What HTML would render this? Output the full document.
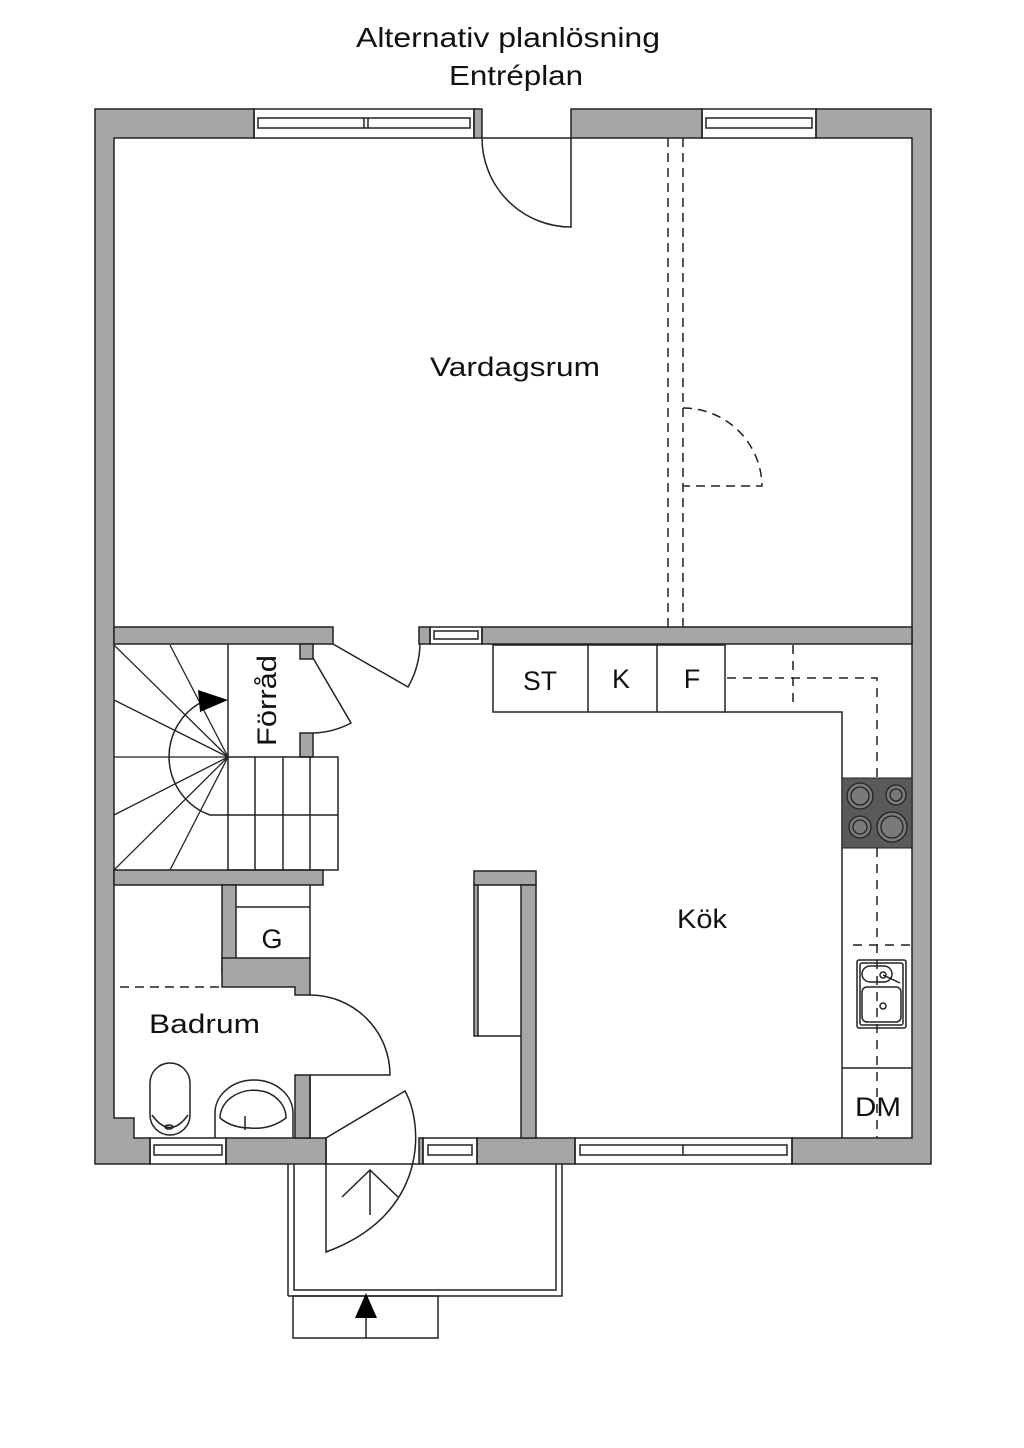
<!DOCTYPE html>
<html><head><meta charset="utf-8"><style>body{margin:0;background:#fff}svg{display:block}text{font-family:"Liberation Sans",sans-serif;fill:#111}</style></head><body>
<svg width="1024" height="1448" viewBox="0 0 1024 1448" xmlns="http://www.w3.org/2000/svg">
<text x="356" y="47" font-size="28" textLength="304" lengthAdjust="spacingAndGlyphs">Alternativ planlösning</text>
<text x="449" y="85" font-size="28" textLength="134" lengthAdjust="spacingAndGlyphs">Entréplan</text>
<g fill="#a6a6a6" stroke="#222" stroke-width="1.5">
<path d="M95,109 H254 V138 H114 V1118 H134 V1138 H150 V1164 H95 Z"/>
<rect x="474" y="109" width="8" height="29"/>
<path d="M571,109 H702 V138 H571 Z"/>
<path d="M816,109 H931 V1164 H792 V1138 H912 V138 H816 Z"/>
<rect x="226" y="1138" width="100" height="26"/>
<rect x="419" y="1138" width="4" height="26"/>
<rect x="477" y="1138" width="98" height="26"/>
<rect x="114" y="627" width="219" height="17"/>
<rect x="419" y="627" width="11" height="17"/>
<rect x="482" y="627" width="430" height="17"/>
<rect x="300" y="644" width="13" height="15"/>
<rect x="300" y="733" width="13" height="24"/>
<rect x="114" y="870" width="209" height="15"/>
<rect x="222" y="885" width="14" height="87"/>
<path d="M222,958 H310 V995 H295 V987 H222 Z"/>
<rect x="295" y="1075" width="15" height="63"/>
<rect x="474" y="871" width="62" height="14"/>
<rect x="521" y="885" width="15" height="253"/>
<rect x="474" y="885" width="4" height="151"/>
</g>
<g fill="none" stroke="#222" stroke-width="1.5">
<rect x="254" y="109" width="220" height="29"/><rect x="258" y="118" width="212" height="10"/><line x1="364" y1="118" x2="364" y2="128"/><line x1="368" y1="118" x2="368" y2="128"/>
<rect x="702" y="109" width="114" height="29"/><rect x="706" y="118" width="106" height="10"/>
<rect x="430" y="627" width="52" height="17"/><rect x="434" y="631" width="44" height="8"/>
<rect x="150" y="1138" width="76" height="26"/><rect x="154" y="1145" width="68" height="10"/>
<rect x="423" y="1138" width="54" height="26"/><rect x="428" y="1145" width="44" height="10"/>
<rect x="575" y="1138" width="217" height="26"/><rect x="580" y="1145" width="207" height="10"/><line x1="683" y1="1145" x2="683" y2="1155"/>
<path d="M571,138 V227 A89,89 0 0 1 482,138"/>
<line x1="482" y1="138" x2="571" y2="138"/>
<line x1="668" y1="138" x2="668" y2="627" stroke-dasharray="9,6"/>
<line x1="683" y1="138" x2="683" y2="627" stroke-dasharray="9,6"/>
<path d="M683,408 A79,79 0 0 1 762,486 H683" stroke-dasharray="9,6"/>
<path d="M333,644 L408,687 A90,90 0 0 0 420,644"/>
<path d="M313,658 L351,723 A85,85 0 0 1 313,733"/>
<line x1="228" y1="644" x2="228" y2="757"/>
<rect x="228" y="757" width="110" height="113"/>
<line x1="228" y1="815" x2="338" y2="815"/>
<line x1="255" y1="757" x2="255" y2="870"/><line x1="283" y1="757" x2="283" y2="870"/><line x1="310" y1="757" x2="310" y2="870"/>
<g stroke-width="1.3">
<line x1="228" y1="757" x2="114" y2="645"/><line x1="228" y1="757" x2="170" y2="645"/><line x1="228" y1="757" x2="114" y2="700"/><line x1="228" y1="757" x2="114" y2="757"/><line x1="228" y1="757" x2="114" y2="815"/><line x1="228" y1="757" x2="114" y2="870"/><line x1="228" y1="757" x2="170" y2="870"/>
</g>
<path d="M200,703 A62,62 0 0 0 210,815 H228"/>
<line x1="236" y1="907" x2="310" y2="907"/><line x1="310" y1="885" x2="310" y2="958"/>
<line x1="120" y1="987" x2="222" y2="987" stroke-dasharray="9,6"/>
<path d="M310,995 A80,80 0 0 1 390,1075 H310"/>
<rect x="150" y="1063" width="40" height="72" rx="20"/>
<path d="M152,1115 Q170,1140 188,1115"/>
<ellipse cx="169" cy="1127" rx="4" ry="2"/>
<path d="M215,1138 V1113 A39,33 0 0 1 293,1113 V1138"/>
<path d="M220,1118 A34,28 0 0 1 266,1092 A34,28 0 0 1 286,1118 Q270,1130 250,1128 Q232,1128 220,1118 Z"/>
<line x1="245" y1="1116" x2="245" y2="1130"/>
<line x1="478" y1="1036" x2="521" y2="1036"/>
<line x1="310" y1="1075" x2="310" y2="1138"/>
<path d="M326,1138 L405,1091 C424,1125 428,1215 326,1252 Z"/>
<line x1="326" y1="1164" x2="419" y2="1164"/>
<path d="M370,1215 V1170 M342,1197 L370,1170 L398,1197"/>
<path d="M288,1164 V1296 M294,1164 V1290 H556 V1164 M562,1164 V1296 H288"/>
<rect x="293" y="1296" width="145" height="42"/>
<line x1="366" y1="1296" x2="366" y2="1338"/>
<rect x="493" y="645" width="232" height="67"/>
<line x1="588" y1="645" x2="588" y2="712"/><line x1="657" y1="645" x2="657" y2="712"/>
<path d="M725,712 H842 V1138"/>
<line x1="842" y1="1068" x2="912" y2="1068"/>
<g stroke-dasharray="9,7">
<path d="M727,678 H877 V1138"/>
<line x1="793" y1="645" x2="793" y2="702"/>
<line x1="853" y1="945" x2="912" y2="945"/>
</g>
<rect x="857" y="960" width="49" height="68" rx="2"/><rect x="860" y="963" width="43" height="62" rx="2"/>
<rect x="862" y="966" width="30" height="16" rx="8"/>
<rect x="862" y="987" width="39" height="35" rx="5"/>
<circle cx="883" cy="975" r="3"/><line x1="883" y1="975" x2="900" y2="983"/>
<circle cx="883" cy="1006" r="3"/>
</g>
<rect x="842" y="778" width="70" height="70" fill="#5a5a5a" stroke="#222"/>
<g fill="#7a7a7a" stroke="#222" stroke-width="1.3">
<circle cx="860" cy="796" r="13"/><circle cx="860" cy="796" r="9"/>
<circle cx="896" cy="795" r="10"/><circle cx="896" cy="795" r="6"/>
<circle cx="860" cy="827" r="11"/><circle cx="860" cy="827" r="7"/>
<circle cx="892" cy="827" r="15"/><circle cx="892" cy="827" r="11"/>
</g>
<polygon points="198,690 228,700 200,712" fill="#000"/>
<polygon points="366,1293 355,1318 377,1318" fill="#000"/>
<g font-size="27">
<text x="430" y="376" textLength="170" lengthAdjust="spacingAndGlyphs">Vardagsrum</text>
<text x="677" y="928" textLength="50" lengthAdjust="spacingAndGlyphs">Kök</text>
<text x="149" y="1033" textLength="111" lengthAdjust="spacingAndGlyphs">Badrum</text>
<text x="523" y="690" textLength="34" lengthAdjust="spacingAndGlyphs">ST</text>
<text x="621" y="688" text-anchor="middle">K</text>
<text x="692" y="688" text-anchor="middle">F</text>
<text x="272" y="948" text-anchor="middle">G</text>
<text x="855" y="1116" textLength="46" lengthAdjust="spacingAndGlyphs">DM</text>
<text transform="translate(276,746) rotate(-90)" textLength="91" lengthAdjust="spacingAndGlyphs">Förråd</text>
</g>
</svg>
</body></html>
